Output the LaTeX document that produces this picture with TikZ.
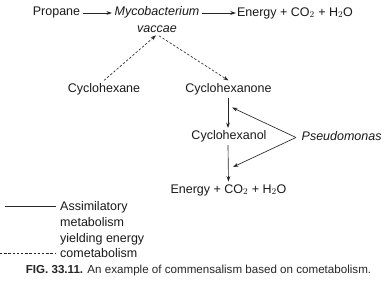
\documentclass[tikz,border=0pt]{standalone}
\usepackage{fontspec}
\setmainfont{Liberation Sans}
\usetikzlibrary{arrows.meta,calc}
\begin{document}
\begin{tikzpicture}[x=1pt,y=-1pt,
  lbl/.style={font=\fontsize{12.5}{15.7}\selectfont, text=black!90, inner sep=2.5pt},
  conn/.style={line width=0.65pt, draw=black!85, -{Stealth[length=5.5pt,width=3.8pt]}},
  conndash/.style={conn, dash pattern=on 2.4pt off 1.8pt},
  legline/.style={line width=0.65pt, draw=black!85}
]
\useasboundingbox (0,0) rectangle (384,288);
% top row
\node[lbl] (prop) at (56.5,13) {Propane};
\node[lbl, align=center, anchor=north] (myco) at (157,4) {\itshape Mycobacterium\\[1.5pt]\itshape vaccae};
\node[lbl] (en1) at (295,13) {Energy + CO$_2$ + H$_2$O};
\draw[conn] (prop.east) -- (prop.east -| myco.west);
\draw[conn] (myco.east |- en1.west) -- ($(en1.west)+(1.5,0)$);
% middle
\node[lbl] (chx) at (104,89) {Cyclohexane};
\node[lbl] (chxone) at (228.5,89) {Cyclohexanone};
\coordinate (vin) at ($(myco.south)+(-1,-0.5)$);
\coordinate (vout) at ($(myco.south)+(2,0)$);
\draw[conndash] (chx.north) -- (vin);
\draw[conndash] (vout) -- (chxone.north);
\node[lbl] (chxol) at (229,136.5) {Cyclohexanol};
\node[lbl, anchor=west] (pseud) at (299,136.5) {\itshape Pseudomonas};
\node[lbl] (en2) at (228.5,190) {Energy + CO$_2$ + H$_2$O};
\draw[conn] ($(chxone.south)+(-0.5,0)$) -- ($(chxol.north)+(-1,0)$);
\draw[conn] ($(chxol.south)+(-1,0)$) -- ($(en2.north)+(0,0)$);
\coordinate (pv) at ($(pseud.west)+(-3,1)$);
\coordinate (t1) at (232,107.5);
\coordinate (t2) at (233,167);
\draw[conn] (pv) -- (t1);
\draw[conn] (pv) -- (t2);
% legend
\coordinate (l1a) at (5,206);
\coordinate (l1b) at (56,206);
\coordinate (l2a) at (0,253);
\coordinate (l2b) at (56,253);
\draw[legline] (l1a) -- (l1b);
\draw[legline, dash pattern=on 2.4pt off 1.8pt] (l2a) -- (l2b);
\node[lbl, anchor=north west, align=left, inner sep=0pt] (leg) at (60,201.5) {Assimilatory\\metabolism\\yielding energy\\cometabolism};
% caption
\node[font=\fontsize{11.6}{13}\selectfont, text=black!85, inner sep=0pt] (cap) at (198.5,270.5) {\textbf{FIG. 33.11.} An example of commensalism based on cometabolism.};
\end{tikzpicture}
\end{document}
